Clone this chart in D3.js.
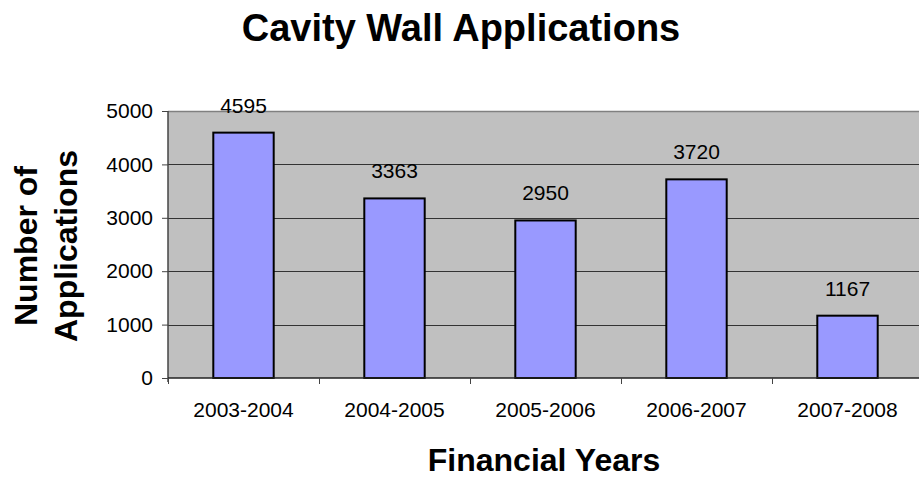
<!DOCTYPE html>
<html>
<head>
<meta charset="utf-8">
<script src="https://cdn.jsdelivr.net/npm/d3@7/dist/d3.min.js"></script>
<style>
  html, body { margin: 0; padding: 0; background: #fff; }
  svg { display: block; font-family: "Liberation Sans", Arial, sans-serif; }
</style>
</head>
<body>
<svg id="chart" width="919" height="477"></svg>
<script>
// Financial years and number of cavity wall applications
const years = ["2003-2004", "2004-2005", "2005-2006", "2006-2007", "2007-2008"];
const applications = [4595, 3363, 2950, 3720, 1167];
const yTicks = [0, 1000, 2000, 3000, 4000, 5000];

const FONT = "Liberation Sans, Arial, sans-serif";
const svg = d3.select("#chart");
const plot = { left: 168, right: 923, top: 111, bottom: 378 };

const x = d3.scaleBand()
  .domain(years)
  .range([plot.left, plot.right])
  .paddingInner(0.6)
  .paddingOuter(0.3);

const y = d3.scaleLinear()
  .domain([0, 5000])
  .range([plot.bottom, plot.top]);

// Plot background
svg.append("rect")
  .attr("x", plot.left).attr("y", plot.top)
  .attr("width", plot.right - plot.left)
  .attr("height", plot.bottom - plot.top)
  .attr("fill", "#c0c0c0");

// Plot border (top edge)
svg.append("line")
  .attr("x1", plot.left).attr("x2", plot.right)
  .attr("y1", plot.top + 0.5).attr("y2", plot.top + 0.5)
  .attr("stroke", "#808080").attr("stroke-width", 1.5);

// Horizontal gridlines
svg.append("g")
  .selectAll("line")
  .data(yTicks.filter(d => d > 0 && d < 5000))
  .join("line")
  .attr("x1", plot.left).attr("x2", plot.right)
  .attr("y1", d => Math.round(y(d)) + 0.5)
  .attr("y2", d => Math.round(y(d)) + 0.5)
  .attr("stroke", "#333").attr("stroke-width", 1);

// Bars
svg.append("g")
  .selectAll("rect")
  .data(years)
  .join("rect")
  .attr("x", d => x(d))
  .attr("y", (d, i) => y(applications[i]))
  .attr("width", x.bandwidth())
  .attr("height", (d, i) => y(0) - y(applications[i]))
  .attr("fill", "#9999ff")
  .attr("stroke", "#000")
  .attr("stroke-width", 2);

// Value labels above bars
svg.append("g")
  .selectAll("text")
  .data(years)
  .join("text")
  .attr("x", d => x(d) + x.bandwidth() / 2)
  .attr("y", (d, i) => y(applications[i]) - 20)
  .attr("text-anchor", "middle")
  .attr("font-size", 21)
  .attr("fill", "#000")
  .text((d, i) => applications[i]);

// Y axis
const yAxis = svg.append("g")
  .attr("transform", `translate(${plot.left},0)`)
  .call(d3.axisLeft(y).tickValues(yTicks).tickSize(6).tickPadding(9).tickFormat(d3.format("d")));
yAxis.select(".domain").attr("stroke", "#444").attr("stroke-width", 1.5)
  .attr("d", `M0,${plot.top}V${plot.bottom + 4}`);
yAxis.selectAll(".tick line").attr("stroke", "#444");
yAxis.selectAll(".tick text").attr("font-size", 21).attr("fill", "#000")
  .attr("font-family", FONT);

// X axis
const step = (plot.right - plot.left) / years.length;
const xAxisG = svg.append("g");
xAxisG.append("line")
  .attr("x1", plot.left).attr("x2", plot.right)
  .attr("y1", plot.bottom).attr("y2", plot.bottom)
  .attr("stroke", "#222").attr("stroke-width", 1.5);
xAxisG.selectAll("line.tick")
  .data(d3.range(years.length + 1))
  .join("line")
  .attr("class", "tick")
  .attr("x1", i => plot.left + i * step + 0.5)
  .attr("x2", i => plot.left + i * step + 0.5)
  .attr("y1", plot.bottom).attr("y2", plot.bottom + 6)
  .attr("stroke", "#444");
xAxisG.selectAll("text")
  .data(years)
  .join("text")
  .attr("x", d => x(d) + x.bandwidth() / 2)
  .attr("y", 417)
  .attr("text-anchor", "middle")
  .attr("font-size", 21)
  .text(d => d);

// Titles
svg.append("text")
  .attr("x", 461).attr("y", 41)
  .attr("text-anchor", "middle")
  .attr("font-size", 38).attr("font-weight", "bold")
  .text("Cavity Wall Applications");

svg.append("text")
  .attr("x", 544).attr("y", 471)
  .attr("text-anchor", "middle")
  .attr("font-size", 32).attr("font-weight", "bold")
  .text("Financial Years");

const yTitle = svg.append("text")
  .attr("transform", "translate(0,246) rotate(-90)")
  .attr("text-anchor", "middle")
  .attr("font-size", 32).attr("font-weight", "bold");
yTitle.append("tspan").attr("x", 0).attr("y", 37).text("Number of");
yTitle.append("tspan").attr("x", 0).attr("y", 77).text("Applications");
</script>
</body>
</html>
